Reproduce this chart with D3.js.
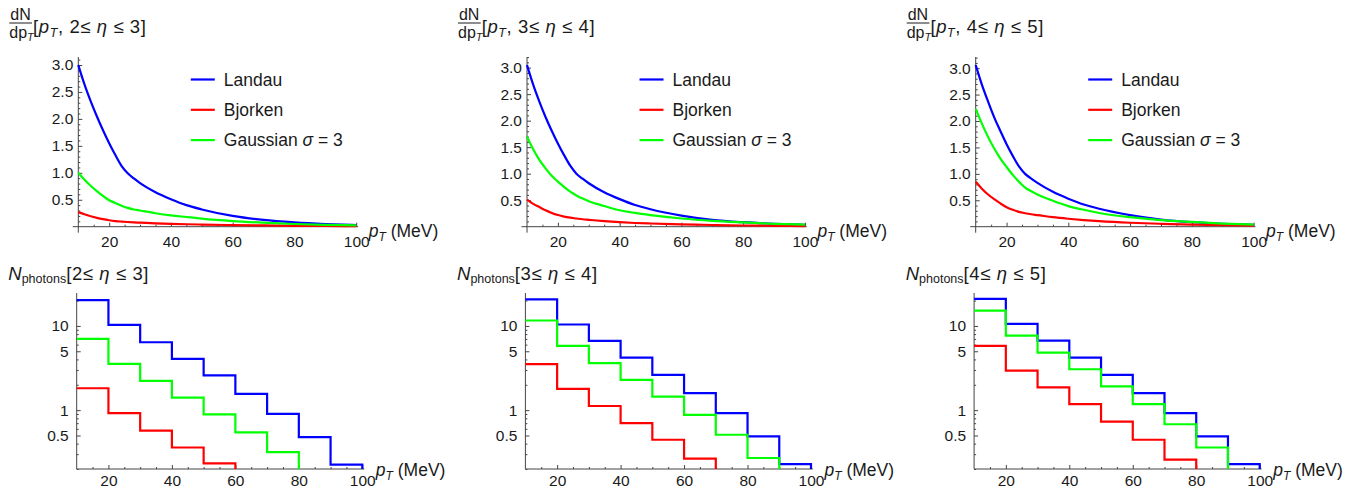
<!DOCTYPE html>
<html>
<head>
<meta charset="utf-8">
<script src="https://cdn.jsdelivr.net/npm/d3@7"></script>
<style>
  body { margin: 0; background: #fff; }
  svg text { font-family: "Liberation Sans", Arial, sans-serif; fill: #1a1a1a; }
</style>
</head>
<body>
<svg id="chart" width="1370" height="495"></svg>
<script>
// pT sample points of the dN/dpT curves (MeV)
var ptGrid = [10, 12, 14, 16, 18, 20, 22, 24, 26, 28, 30, 35, 40, 45, 50, 60, 70, 80, 90, 100];

// dN/dpT per eta window
var landau = [
  [3.00, 2.64, 2.33, 2.05, 1.79, 1.55, 1.33, 1.13, 0.99, 0.895, 0.81, 0.64, 0.51, 0.40, 0.32, 0.20, 0.125, 0.08, 0.05, 0.03],
  [3.05, 2.68, 2.36, 2.07, 1.81, 1.57, 1.35, 1.15, 1.00, 0.905, 0.82, 0.65, 0.52, 0.41, 0.33, 0.21, 0.13, 0.085, 0.055, 0.035],
  [3.06, 2.69, 2.37, 2.07, 1.81, 1.56, 1.34, 1.14, 1.00, 0.91, 0.83, 0.66, 0.53, 0.42, 0.34, 0.22, 0.135, 0.085, 0.055, 0.035]
];
var bjorken = [
  [0.27, 0.23, 0.195, 0.165, 0.14, 0.12, 0.105, 0.095, 0.087, 0.08, 0.075, 0.062, 0.052, 0.045, 0.04, 0.03, 0.023, 0.017, 0.013, 0.01],
  [0.51, 0.43, 0.37, 0.31, 0.26, 0.22, 0.19, 0.17, 0.155, 0.14, 0.13, 0.105, 0.085, 0.07, 0.06, 0.045, 0.032, 0.023, 0.017, 0.012],
  [0.85, 0.72, 0.61, 0.52, 0.44, 0.37, 0.32, 0.28, 0.255, 0.235, 0.22, 0.18, 0.15, 0.125, 0.105, 0.075, 0.055, 0.04, 0.028, 0.02]
];
var gaussian = [
  [1.00, 0.87, 0.76, 0.66, 0.57, 0.49, 0.44, 0.39, 0.35, 0.32, 0.30, 0.25, 0.21, 0.18, 0.15, 0.105, 0.075, 0.05, 0.035, 0.025],
  [1.70, 1.46, 1.26, 1.10, 0.96, 0.85, 0.75, 0.66, 0.59, 0.53, 0.48, 0.39, 0.31, 0.26, 0.22, 0.155, 0.11, 0.08, 0.055, 0.04],
  [2.23, 1.95, 1.70, 1.48, 1.29, 1.13, 0.98, 0.85, 0.74, 0.67, 0.61, 0.49, 0.39, 0.32, 0.26, 0.18, 0.125, 0.09, 0.06, 0.04]
];

// photon counts per 10 MeV bin (bins below the plot range are left out)
var binEdges = [10, 20, 30, 40, 50, 60, 70, 80, 90, 100];
var nLandau = [
  [20.3, 10.3, 6.4, 4.06, 2.58, 1.56, 0.905, 0.479, 0.225],
  [20.7, 10.4, 6.64, 4.21, 2.62, 1.59, 0.92, 0.487, 0.229],
  [20.9, 10.6, 6.7, 4.21, 2.62, 1.59, 0.92, 0.487, 0.229]
];
var nBjorken = [
  [1.82, 0.92, 0.57, 0.36, 0.233],
  [3.51, 1.79, 1.12, 0.70, 0.445, 0.265],
  [5.79, 2.95, 1.86, 1.18, 0.73, 0.445, 0.258]
];
var nGaussian = [
  [7.0, 3.54, 2.23, 1.41, 0.889, 0.543, 0.318],
  [11.6, 5.79, 3.61, 2.29, 1.45, 0.88, 0.51, 0.27],
  [15.2, 7.68, 4.83, 3.06, 1.91, 1.18, 0.68, 0.36]
];

var etaRanges = [[2, 3], [3, 4], [4, 5]];
var seriesColors = ["#0000ff", "#ff0000", "#00ff00"];
var xTicks = [20, 40, 60, 80, 100];
var yTicksTop = [0.5, 1, 1.5, 2, 2.5, 3];
var yTicksLog = [0.5, 1, 5, 10];
var yMinorLog = [0.2, 0.3, 0.4, 0.6, 0.7, 0.8, 0.9, 2, 3, 4, 6, 7, 8, 9, 20];

var svg = d3.select("#chart");
var axisColor = "#444";
var panelStep = 448.7;

function styleAxis(g, fontSize) {
  g.select(".domain").remove();
  g.selectAll(".tick line").attr("stroke", axisColor).attr("stroke-width", 1);
  g.selectAll(".tick text").attr("fill", "#1a1a1a").style("font-size", fontSize + "px")
    .style("font-family", '"Liberation Sans", Arial, sans-serif');
}

// p_T (MeV) label
function ptLabel(g, x, y) {
  var t = g.append("text").attr("x", x).attr("y", y).style("font-size", "17.5px");
  t.append("tspan").attr("font-style", "italic").text("p");
  t.append("tspan").attr("font-style", "italic").attr("dy", 4).style("font-size", "12px").text("T");
  t.append("tspan").attr("dy", -4).text(" (MeV)");
}

function etaText(t, r) {
  t.append("tspan").text(r[0] + "\u2264 ");
  t.append("tspan").attr("font-style", "italic").text("\u03b7");
  t.append("tspan").text(" \u2264 " + r[1] + "]");
}

etaRanges.forEach(function(r, i) {
  var dx = panelStep * i;
  var g = svg.append("g");

  // ---------- top: dN/dpT ----------
  var x = d3.scaleLinear().domain([10, 100]).range([78.3 + dx, 356.2 + dx]);
  var yMax = d3.max([landau[i], bjorken[i], gaussian[i]], function(s) { return d3.max(s); });
  var y = d3.scaleLinear().domain([0, yMax]).range([226.7, 65]);

  g.append("line").attr("x1", x(8.2)).attr("x2", x(100.6)).attr("y1", y(0)).attr("y2", y(0))
    .attr("stroke", axisColor);
  g.append("line").attr("x1", x(10)).attr("x2", x(10)).attr("y1", y(0) + 6).attr("y2", 57)
    .attr("stroke", axisColor);

  var xa = g.append("g").attr("transform", "translate(0," + y(0) + ")")
    .call(d3.axisBottom(x).tickValues(xTicks).tickSize(-4).tickPadding(9).tickFormat(d3.format("d")));
  styleAxis(xa, 15.5);
  var xm = g.append("g").attr("transform", "translate(0," + y(0) + ")")
    .call(d3.axisBottom(x).tickValues(d3.range(15, 100, 5).filter(function(v) { return v % 20 !== 0; }))
      .tickSize(-2).tickFormat(""));
  styleAxis(xm, 15.5);

  var ya = g.append("g").attr("transform", "translate(" + x(10) + ",0)")
    .call(d3.axisLeft(y).tickValues(yTicksTop).tickSize(-4).tickPadding(5).tickFormat(d3.format(".1f")));
  styleAxis(ya, 15.5);
  var ym = g.append("g").attr("transform", "translate(" + x(10) + ",0)")
    .call(d3.axisLeft(y).tickValues(d3.range(1, Math.floor(y.invert(57) * 10) + 1)
      .filter(function(v) { return v % 5 !== 0; }).map(function(v) { return v / 10; }))
      .tickSize(-2).tickFormat(""));
  styleAxis(ym, 15.5);

  var line = d3.line().x(function(d) { return x(d[0]); }).y(function(d) { return y(d[1]); })
    .curve(d3.curveMonotoneX);
  [landau[i], bjorken[i], gaussian[i]].forEach(function(s, k) {
    g.append("path").datum(ptGrid.map(function(p, j) { return [p, s[j]]; }))
      .attr("d", line).attr("fill", "none").attr("stroke", seriesColors[k]).attr("stroke-width", 2.2);
  });

  // legend
  var legNames = ["Landau", "Bjorken", "Gaussian "];
  legNames.forEach(function(n, k) {
    var ly = 79.5 + k * 30.3;
    var lx = x(10) + 112.5;
    g.append("line").attr("x1", lx).attr("x2", lx + 24).attr("y1", ly).attr("y2", ly)
      .attr("stroke", seriesColors[k]).attr("stroke-width", 2.2);
    var t = g.append("text").attr("x", lx + 33).attr("y", ly + 6.3).style("font-size", "17.5px").text(n);
    if (k === 2) {
      t.append("tspan").attr("font-style", "italic").text("\u03c3");
      t.append("tspan").text(" = 3");
    }
  });

  // title
  g.append("text").attr("x", 20.5 + dx).attr("y", 19.5).attr("text-anchor", "middle")
    .style("font-size", "16px").text("dN");
  g.append("line").attr("x1", 9.3 + dx).attr("x2", 32 + dx).attr("y1", 23).attr("y2", 23)
    .attr("stroke", "#1a1a1a").attr("stroke-width", 1);
  var den = g.append("text").attr("x", 9.3 + dx).attr("y", 38).style("font-size", "16px");
  den.append("tspan").text("dp");
  den.append("tspan").attr("font-style", "italic").attr("dy", 3).style("font-size", "11px").text("T");
  var tt = g.append("text").attr("x", 33 + dx).attr("y", 32.5).style("font-size", "18.5px")
    .style("letter-spacing", "0.6px");
  tt.append("tspan").text("[");
  tt.append("tspan").attr("font-style", "italic").text("p");
  tt.append("tspan").attr("font-style", "italic").attr("dy", 4).style("font-size", "12.5px").text("T");
  tt.append("tspan").attr("dy", -4).text(", ");
  etaText(tt, r);

  ptLabel(g, x(100) + 12.5, 237);

  // ---------- bottom: N photons ----------
  var xb = d3.scaleLinear().domain([10, 100]).range([76.7 + dx, 362.3 + dx]);
  var yb = d3.scaleLog().domain([0.2, 24.6]).range([469, 293]);

  g.append("line").attr("x1", xb(10)).attr("x2", xb(100.6)).attr("y1", 469).attr("y2", 469)
    .attr("stroke", axisColor);
  g.append("line").attr("x1", xb(10)).attr("x2", xb(10)).attr("y1", 469).attr("y2", 293)
    .attr("stroke", axisColor);

  var xba = g.append("g").attr("transform", "translate(0,469)")
    .call(d3.axisBottom(xb).tickValues(xTicks).tickSize(-4).tickPadding(6).tickFormat(d3.format("d")));
  styleAxis(xba, 15.5);
  var xbm = g.append("g").attr("transform", "translate(0,469)")
    .call(d3.axisBottom(xb).tickValues(d3.range(15, 100, 5).filter(function(v) { return v % 20 !== 0; }))
      .tickSize(-2).tickFormat(""));
  styleAxis(xbm, 15.5);
  var yba = g.append("g").attr("transform", "translate(" + xb(10) + ",0)")
    .call(d3.axisLeft(yb).tickValues(yTicksLog).tickSize(-4).tickPadding(8).tickFormat(d3.format("~g")));
  styleAxis(yba, 15.5);
  var ybm = g.append("g").attr("transform", "translate(" + xb(10) + ",0)")
    .call(d3.axisLeft(yb).tickValues(yMinorLog).tickSize(-2).tickFormat(""));
  styleAxis(ybm, 15.5);

  var step = d3.line().x(function(d) { return xb(d[0]); }).y(function(d) { return yb(d[1]); });
  [nLandau[i], nBjorken[i], nGaussian[i]].forEach(function(s, k) {
    var pts = [];
    s.forEach(function(v, j) { pts.push([binEdges[j], v]); pts.push([binEdges[j + 1], v]); });
    pts.push([binEdges[s.length], yb.domain()[0]]);
    g.append("path").datum(pts).attr("d", step).attr("fill", "none")
      .attr("stroke", seriesColors[k]).attr("stroke-width", 2.2).attr("stroke-linejoin", "miter");
  });

  var bt = g.append("text").attr("x", 8.3 + dx).attr("y", 280).style("font-size", "18.5px");
  bt.append("tspan").attr("font-style", "italic").text("N");
  bt.append("tspan").attr("dy", 3).style("font-size", "12.5px").text("photons");
  var br = bt.append("tspan").attr("dy", -3).style("letter-spacing", "0.6px").text("[");
  etaText(bt, r);
  bt.selectAll("tspan").filter(function(d, j) { return j >= 2; }).style("letter-spacing", "0.6px");

  ptLabel(g, xb(100) + 13.5, 476);
});
</script>
</body>
</html>
